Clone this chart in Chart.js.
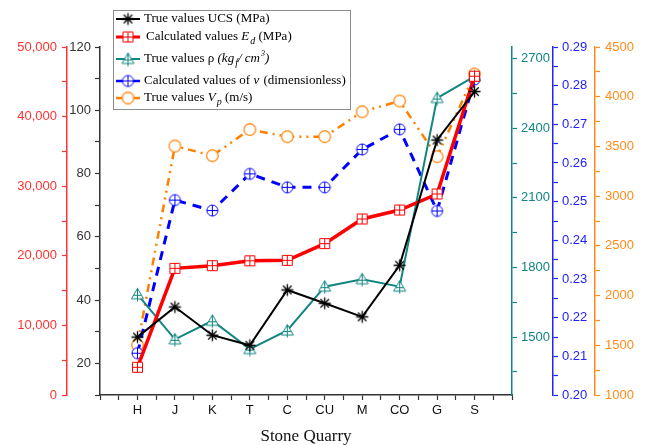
<!DOCTYPE html>
<html>
<head>
<meta charset="utf-8">
<script src="https://cdn.jsdelivr.net/npm/chart.js@4.4.1/dist/chart.umd.min.js"></script>
<style>
  html, body { margin: 0; padding: 0; background: #fff; }
  #wrap { width: 646px; height: 445px; }
</style>
</head>
<body>
<div id="wrap"><canvas id="chart" width="646" height="445"></canvas></div>
<script>
// data
const quarries = ['H', 'J', 'K', 'T', 'C', 'CU', 'M', 'CO', 'G', 'S'];
const ucs      = [28.3, 37.8, 28.9, 25.7, 43.2, 39.0, 34.7, 51.0, 90.6, 105.9];
const ed       = [3980, 18200, 18580, 19280, 19350, 21750, 25290, 26580, 28880, 45800];
const density  = [1684, 1490, 1570, 1448, 1528, 1717, 1749, 1717, 2530, 2623];
const poisson  = [0.2108, 0.2504, 0.2477, 0.2572, 0.2537, 0.2537, 0.2635, 0.2687, 0.2476, 0.2816];
const vp       = [1503, 3504, 3407, 3670, 3598, 3598, 3849, 3957, 3397, 4228];

// tick labels
const ucsTicks     = [20, 40, 60, 80, 100, 120];
const edTicks      = [0, 10000, 20000, 30000, 40000, 50000];
const densityTicks = [1500, 1800, 2100, 2400, 2700];
const poissonTicks = [0.20, 0.21, 0.22, 0.23, 0.24, 0.25, 0.26, 0.27, 0.28, 0.29];
const vpTicks      = [1000, 1500, 2000, 2500, 3000, 3500, 4000, 4500];

const sans = "'Liberation Sans', Arial, sans-serif";
const serif = "'Liberation Serif', 'Times New Roman', serif";

const RED = '#ff0000', TEAL = '#118580', BLUE = '#0000ff', ORANGE = '#ff8000';

// little marker images
function marker(kind, color) {
  const c = document.createElement('canvas');
  c.width = 15; c.height = 15;
  const g = c.getContext('2d');
  g.strokeStyle = color; g.fillStyle = '#fff'; g.lineWidth = 1;
  g.beginPath();
  if (kind === 'star') {
    g.lineWidth = 1.3;
    for (let a = 0; a < 4; a++) {
      const t = a * Math.PI / 4;
      g.moveTo(7.5 + 6 * Math.cos(t), 7.5 + 6 * Math.sin(t));
      g.lineTo(7.5 - 6 * Math.cos(t), 7.5 - 6 * Math.sin(t));
    }
    g.stroke();
  } else if (kind === 'box') {
    g.fillRect(2.5, 2.5, 10, 10);
    g.rect(2.5, 2.5, 10, 10);
    g.moveTo(7.5, 2.5); g.lineTo(7.5, 12.5);
    g.moveTo(2.5, 7.5); g.lineTo(12.5, 7.5);
    g.stroke();
  } else if (kind === 'tri') {
    g.moveTo(7.5, 1.5); g.lineTo(1.5, 12); g.lineTo(13.5, 12); g.closePath();
    g.fill();
    g.moveTo(7.5, 1.5); g.lineTo(7.5, 14.5);
    g.moveTo(3.5, 8.5); g.lineTo(11.5, 8.5);
    g.stroke();
  } else if (kind === 'oplus') {
    g.arc(7.5, 7.5, 5.5, 0, Math.PI * 2);
    g.fill();
    g.moveTo(7.5, 2); g.lineTo(7.5, 13);
    g.moveTo(2, 7.5); g.lineTo(13, 7.5);
    g.stroke();
  } else {
    g.lineWidth = 1.2;
    g.arc(7.5, 7.5, 5.8, 0, Math.PI * 2);
    g.fill();
    g.stroke();
  }
  return c;
}

const mkUcs = marker('star', '#000');
const mkEd = marker('box', RED);
const mkDen = marker('tri', TEAL);
const mkPoi = marker('oplus', BLUE);
const mkVp = marker('circle', ORANGE);

const pts = arr => arr.map((v, i) => ({ x: i + 1, y: v }));

// majors from the tick list plus minor ticks half way between
function ticksFrom(major, min, max) {
  return scale => {
    const half = (major[1] - major[0]) / 2;
    const vals = [];
    major.forEach(m => { vals.push(m - half, m, m + half); });
    const seen = new Set();
    scale.ticks = vals
      .filter(v => v >= min - 1e-9 && v <= max + 1e-9)
      .filter(v => { const k = v.toFixed(6); if (seen.has(k)) return false; seen.add(k); return true; })
      .sort((a, b) => a - b)
      .map(v => ({ value: v }));
  };
}
function isMajor(major, v) {
  return major.some(m => Math.abs(m - v) < 1e-9);
}

function yAxis(opts) {
  return {
    type: 'linear',
    position: opts.pos,
    min: opts.min,
    max: opts.max,
    afterBuildTicks: ticksFrom(opts.major, opts.min, opts.max),
    afterFit: s => { s.width = opts.width; },
    border: { display: true, color: opts.color, width: 1.5 },
    grid: { drawOnChartArea: false, tickLength: 5, tickColor: opts.color, tickWidth: 1.2 },
    ticks: {
      autoSkip: false,
      color: opts.color,
      padding: opts.pad,
      font: { family: sans, size: 13 },
      callback: v => isMajor(opts.major, v) ? opts.fmt(v) : ''
    }
  };
}

const legendRows = [
  { img: mkUcs, color: '#000', width: 2, y: 19, x: 144,
    parts: [['True values UCS (MPa)', 'n']] },
  { img: mkEd, color: RED, width: 3, y: 37, x: 146,
    parts: [['Calculated values ', 'n'], ['E', 'i'], ['d', 'sub'], [' (MPa)', 'n']] },
  { img: mkDen, color: TEAL, width: 2, y: 59, x: 144,
    parts: [['True values \u03c1 ', 'n'], ['(kg', 'i'], ['f', 'sub'], ['/ cm', 'i'], ['3', 'sup'], [')', 'i']] },
  { img: mkPoi, color: BLUE, width: 2.5, y: 81, x: 144,
    parts: [['Calculated values of ', 'n'], ['\u03bd', 'i'], [' (dimensionless)', 'n']] },
  { img: mkVp, color: ORANGE, width: 2.5, y: 98, x: 144,
    parts: [['True values ', 'n'], ['V', 'i'], ['p', 'sub'], [' (m/s)', 'n']] }
];

const legendBox = {
  id: 'legendBox',
  afterDraw(chart) {
    const ctx = chart.ctx;
    ctx.save();
    ctx.fillStyle = '#fff';
    ctx.fillRect(113, 10, 237, 99);
    ctx.strokeStyle = '#8c8c8c';
    ctx.lineWidth = 1;
    ctx.strokeRect(113.5, 10.5, 237, 99);
    legendRows.forEach(r => {
      ctx.strokeStyle = r.color;
      ctx.lineWidth = r.width;
      ctx.beginPath();
      ctx.moveTo(116, r.y); ctx.lineTo(140, r.y);
      ctx.stroke();
      ctx.drawImage(r.img, 128 - 7.5, r.y - 7.5);
      let x = r.x;
      ctx.fillStyle = '#000';
      ctx.textBaseline = 'middle';
      r.parts.forEach(([t, st]) => {
        let dy = 0;
        if (st === 'n') ctx.font = '13px ' + serif;
        else if (st === 'i') ctx.font = 'italic 13px ' + serif;
        else if (st === 'sub') { ctx.font = 'italic 10px ' + serif; dy = 4; }
        else { ctx.font = 'italic 8px ' + serif; dy = -5; }
        ctx.fillText(t, x, r.y + dy);
        x += ctx.measureText(t).width + (st === 'i' ? 1 : 0);
      });
    });
    ctx.restore();
  }
};

const ctx = document.getElementById('chart');
new Chart(ctx, {
  type: 'line',
  data: {
    datasets: [
      {
        label: 'True values UCS (MPa)',
        data: pts(ucs),
        yAxisID: 'y',
        borderColor: '#000',
        borderWidth: 2,
        pointStyle: mkUcs,
      },
      {
        label: 'Calculated values Ed (MPa)',
        data: pts(ed),
        yAxisID: 'yEd',
        borderColor: RED,
        borderWidth: 3.5,
        pointStyle: mkEd,
      },
      {
        label: 'True values rho',
        data: pts(density),
        yAxisID: 'yDen',
        borderColor: TEAL,
        borderWidth: 2,
        pointStyle: mkDen,
      },
      {
        label: 'Calculated values of nu',
        data: pts(poisson),
        yAxisID: 'yPoi',
        borderColor: BLUE,
        borderWidth: 3,
        borderDash: [9, 7],
        pointStyle: mkPoi,
      },
      {
        label: 'True values Vp (m/s)',
        data: pts(vp),
        yAxisID: 'yVp',
        borderColor: ORANGE,
        borderWidth: 2.5,
        borderDash: [8, 5, 2, 5, 2, 5],
        pointStyle: mkVp,
      }
    ]
  },
  options: {
    responsive: false,
    animation: false,
    layout: { padding: { top: 47, left: 0, right: 0, bottom: 0 } },
    plugins: { legend: { display: false }, tooltip: { enabled: false } },
    elements: { line: { tension: 0, fill: false }, point: { radius: 6 } },
    scales: {
      x: {
        type: 'linear',
        min: 0,
        max: 11,
        afterBuildTicks: s => {
          s.ticks = [];
          for (let i = 0; i <= 22; i++) s.ticks.push({ value: i / 2 });
        },
        afterFit: s => { s.height = 50; },
        border: { display: true, color: '#333', width: 1.5 },
        grid: { drawOnChartArea: false, tickLength: 5, tickColor: '#333', tickWidth: 1.2 },
        ticks: {
          autoSkip: false,
          maxRotation: 0,
          color: '#111',
          padding: 3,
          font: { family: sans, size: 13 },
          callback: v => Number.isInteger(v) && quarries[v - 1] ? quarries[v - 1] : ''
        },
        title: {
          display: true,
          text: 'Stone Quarry',
          color: '#111',
          font: { family: serif, size: 17, lineHeight: 1.0 },
          padding: { top: 0, bottom: 0 }
        }
      },
      y: yAxis({ pos: 'left', min: 10, max: 120, major: ucsTicks, color: '#333', width: 33, pad: 4,
        fmt: v => String(v) }),
      yEd: yAxis({ pos: 'left', min: 0, max: 50000, major: edTicks, color: '#ff3333', width: 67, pad: 5,
        fmt: v => v.toLocaleString('en-US') }),
      yDen: yAxis({ pos: 'right', min: 1250, max: 2750, major: densityTicks, color: TEAL, width: 41, pad: 4,
        fmt: v => String(v) }),
      yPoi: yAxis({ pos: 'right', min: 0.2, max: 0.29, major: poissonTicks, color: '#2222ff', width: 42, pad: 4,
        fmt: v => v.toFixed(2) }),
      yVp: yAxis({ pos: 'right', min: 1000, max: 4500, major: vpTicks, color: '#ff8c1a', width: 51, pad: 5,
        fmt: v => String(v) })
    }
  },
  plugins: [legendBox]
});
</script>
</body>
</html>
